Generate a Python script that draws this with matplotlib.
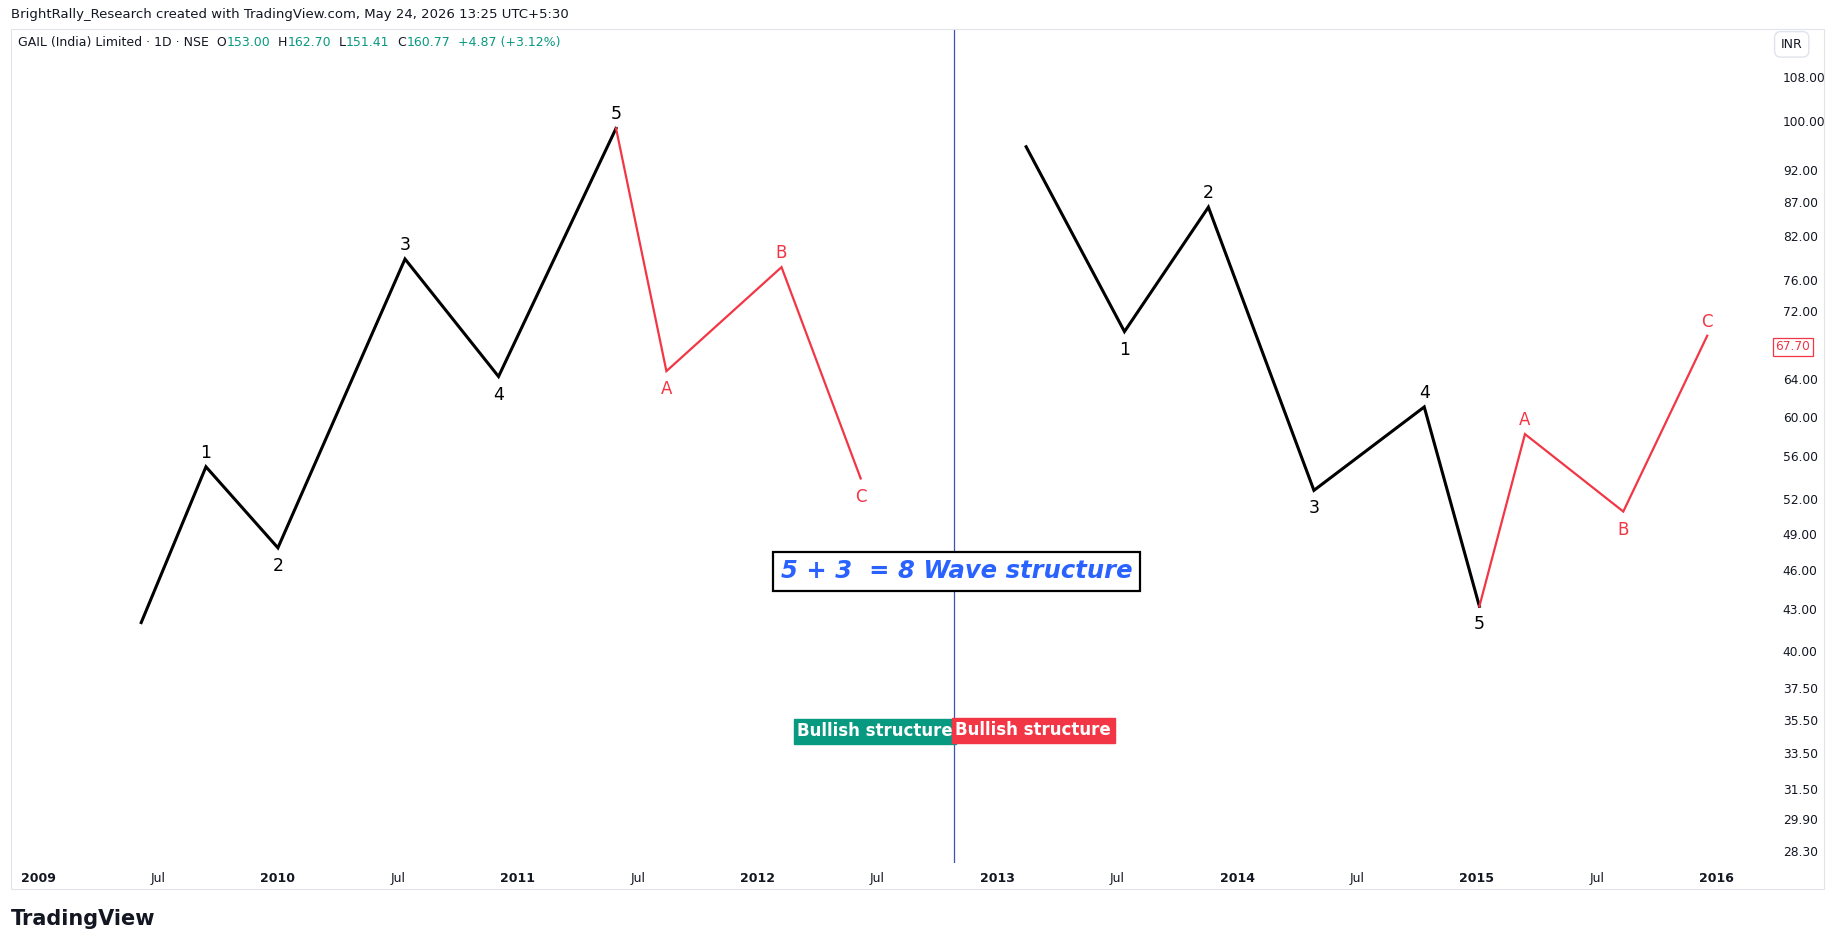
import matplotlib
matplotlib.use("Agg")
import matplotlib.pyplot as plt
from matplotlib.ticker import FixedLocator, NullLocator

# wave pivots (fractional year, price)
impulse_up_x = [2009.43, 2009.70, 2010.00, 2010.53, 2010.92, 2011.41]
impulse_up_y = [42.0, 55.0, 47.8, 78.8, 64.3, 98.8]
impulse_up_lbl = ["", "1", "2", "3", "4", "5"]
corr_up_x = [2011.41, 2011.62, 2012.10, 2012.43]
corr_up_y = [98.8, 64.9, 77.7, 53.9]
corr_up_lbl = ["", "A", "B", "C"]

impulse_dn_x = [2013.12, 2013.53, 2013.88, 2014.32, 2014.78, 2015.01]
impulse_dn_y = [95.7, 69.5, 86.2, 52.8, 61.0, 43.2]
impulse_dn_lbl = ["", "1", "2", "3", "4", "5"]
corr_dn_x = [2015.01, 2015.20, 2015.61, 2015.96]
corr_dn_y = [43.2, 58.2, 50.9, 69.0]
corr_dn_lbl = ["", "A", "B", "C"]

price_ticks = [28.30, 29.90, 31.50, 33.50, 35.50, 37.50, 40.00, 43.00, 46.00, 49.00,
               52.00, 56.00, 60.00, 64.00, 72.00, 76.00, 82.00, 87.00, 92.00, 100.00, 108.00]
time_ticks = [2009, 2009.5, 2010, 2010.5, 2011, 2011.5, 2012, 2012.5, 2013, 2013.5,
              2014, 2014.5, 2015, 2015.5, 2016]
time_labels = ["2009", "Jul", "2010", "Jul", "2011", "Jul", "2012", "Jul", "2013", "Jul",
               "2014", "Jul", "2015", "Jul", "2016"]
last_price = 67.70
divider_x = 2012.82

RED = "#f23645"
GREEN = "#089981"
W, H = 1568, 815  # layout measured on reference scale

fig = plt.figure(figsize=(18.35, 9.51), dpi=100)
ax = fig.add_axes([10 / W, 1 - 740 / H, 1498 / W, 715 / H])
ax.set_yscale("log")
ax.set_xlim(2008.89, 2016.20)
ax.set_ylim(27.68, 117.3)
for s in ax.spines.values():
    s.set_visible(False)
ax.yaxis.tick_right()
ax.yaxis.set_major_locator(FixedLocator(price_ticks))
ax.yaxis.set_minor_locator(NullLocator())
ax.set_yticklabels([f"{v:.2f}" for v in price_ticks])
ax.tick_params(axis="y", length=0, pad=13, labelsize=8.8, labelcolor="#131722")
ax.xaxis.set_major_locator(FixedLocator(time_ticks))
ax.xaxis.set_minor_locator(NullLocator())
ax.set_xticklabels(time_labels)
for lbl, t in zip(ax.get_xticklabels(), time_labels):
    lbl.set_fontweight("bold" if t != "Jul" else "normal")
ax.tick_params(axis="x", length=0, pad=6, labelsize=9, labelcolor="#131722")


def draw(xs, ys, lbls, color, lw, fs):
    ax.plot(xs, ys, color=color, lw=lw, solid_joinstyle="miter")
    for i, (x, y, t) in enumerate(zip(xs, ys, lbls)):
        if not t:
            continue
        up = y > ys[i - 1]
        ax.annotate(t, (x, y), xytext=(0, 10 if up else -13), textcoords="offset points",
                    ha="center", va="center", color=color, fontsize=fs)


draw(impulse_up_x, impulse_up_y, impulse_up_lbl, "black", 2.2, 12.5)
draw(corr_up_x, corr_up_y, corr_up_lbl, RED, 1.6, 12)
draw(impulse_dn_x, impulse_dn_y, impulse_dn_lbl, "black", 2.2, 12.5)
draw(corr_dn_x, corr_dn_y, corr_dn_lbl, RED, 1.6, 12)

ax.axvline(divider_x, color="#3f51b5", lw=0.9)

ax.text(2012.83, 45.9, "5 + 3  = 8 Wave structure", ha="center", va="center",
        fontsize=17.5, fontstyle="italic", fontweight="bold", color="#2962ff",
        bbox=dict(boxstyle="square,pad=0.3", fc="white", ec="black", lw=1.6))
ax.text(2012.49, 34.8, "Bullish structure", ha="center", va="center", fontsize=12,
        fontweight="bold", color="white", bbox=dict(boxstyle="square,pad=0.2", fc=GREEN, ec=GREEN))
ax.text(2013.15, 34.85, "Bullish structure", ha="center", va="center", fontsize=12,
        fontweight="bold", color="white", bbox=dict(boxstyle="square,pad=0.2", fc=RED, ec=RED))

# last price tag
ax.text(1.0 + 9 / 1498, last_price, f"{last_price:.2f}", transform=ax.get_yaxis_transform(),
        ha="left", va="center", fontsize=8.8, color=RED,
        bbox=dict(boxstyle="square,pad=0.2", fc="white", ec=RED, lw=0.9))

# outer frame, header and footer
fig.add_artist(plt.Rectangle((9 / W, 1 - 762 / H), 1550 / W, 737 / H, transform=fig.transFigure,
                             fill=False, ec="#e0e3eb", lw=0.8))
fig.text(9 / W, 1 - 12 / H, "BrightRally_Research created with TradingView.com, May 24, 2026 13:25 UTC+5:30",
         fontsize=9.5, va="center", color="#131722")
hx, hy = 15 / W, 1 - 36 / H
parts = [("GAIL (India) Limited · 1D · NSE  O", "#131722"), ("153.00", GREEN), ("  H", "#131722"),
         ("162.70", GREEN), ("  L", "#131722"), ("151.41", GREEN), ("  C", "#131722"),
         ("160.77", GREEN), ("  +4.87 (+3.12%)", GREEN)]
fig.canvas.draw()
rend = fig.canvas.get_renderer()
for txt, col in parts:
    t = fig.text(hx, hy, txt, fontsize=9, va="center", color=col)
    hx += t.get_window_extent(rend).width / fig.bbox.width
fig.text(1531 / W, 1 - 38 / H, "INR", fontsize=9, ha="center", va="center", color="#131722",
         bbox=dict(boxstyle="round,pad=0.5", fc="white", ec="#e0e3eb"))
fig.text(9 / W, 1 - 788 / H, "TradingView", fontsize=15, fontweight="bold", va="center",
         color="#131722")
fig.savefig("out.png", dpi=100, facecolor="white")
